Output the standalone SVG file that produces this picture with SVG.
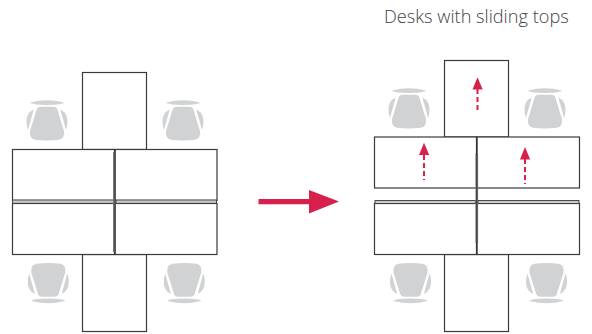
<svg xmlns="http://www.w3.org/2000/svg" width="592" height="334" viewBox="0 0 592 334">
<style>
.d{fill:#fff;stroke:#3a3a3a;stroke-width:1.2}
.s{fill:#c9cacb;stroke:#3a3a3a;stroke-width:.9}
.c{fill:#d1d2d4}
.vg{fill:#777}
.vl{stroke:#333;stroke-width:1;fill:none}
.r{fill:#d7204c}
.rd{stroke:#d7204c;stroke-width:2;stroke-dasharray:5 3;fill:none}
text{font-family:"Open Sans","Noto Sans",sans-serif;font-size:18.2px;fill:#444;font-weight:300}
</style>
<defs>
<g id="chair">
<path class="c" d="M-17,2.6Q0,-2 17,2.6Q16,4.800 0,5Q-16,4.800 -17,2.600Z"/>
<path class="c" d="M-6,6.800H6Q9.500,6.800 10.500,10L17,31Q18,38.500 12,39.800Q0,41 -12,39.800Q-18,38.500 -17,31L-10.500,10Q-9.500,6.800 -6,6.800Z"/>
<path class="c" d="M-13.500,9.500Q-20.500,13 -20.500,21Q-20.500,26.500 -19,30L-14,12Z"/>
<path class="c" d="M13.500,9.500Q20.500,13 20.500,21Q20.500,26.500 19,30L14,12Z"/>
</g>
</defs>
<g id="chairs-left">
<use href="#chair" x="47" y="100"/>
<use href="#chair" x="183" y="100"/>
<use href="#chair" transform="translate(48.300,303.500) scale(1,-1)"/>
<use href="#chair" transform="translate(184.300,303.500) scale(1,-1)"/>
</g>
<g id="desks-left">
<rect class="d" x="82.500" y="72.500" width="64" height="77"/>
<rect class="d" x="82.500" y="254.500" width="64" height="77"/>
<rect class="d" x="12.500" y="149.500" width="102" height="51"/>
<rect class="d" x="115" y="149.500" width="102" height="51"/>
<rect class="d" x="12.500" y="203.500" width="102" height="51"/>
<rect class="d" x="115" y="203.500" width="102" height="51"/>
<rect class="s" x="12.500" y="200" width="101" height="3.300"/>
<rect class="s" x="116" y="200" width="100.500" height="3.300"/>
<rect class="vg" x="113" y="152" width="2.600" height="100"/>
<path class="vl" d="M115,149V254.500"/>
</g>
<g id="arrow-main">
<path class="r" d="M258.500,199H309V190L339,201.500L309,213.500V204.300H258.500Z"/>
</g>
<g id="chairs-right">
<use href="#chair" x="409" y="88"/>
<use href="#chair" x="545" y="88"/>
<use href="#chair" transform="translate(410.500,303.500) scale(1,-1)"/>
<use href="#chair" transform="translate(546.500,303.500) scale(1,-1)"/>
</g>
<g id="desks-right">
<rect class="d" x="444.500" y="60.500" width="64" height="76.500"/>
<rect class="d" x="444.500" y="254.500" width="64" height="77"/>
<rect class="d" x="374.500" y="137" width="102" height="51"/>
<rect class="d" x="477" y="137" width="102.500" height="51"/>
<rect class="d" x="374.500" y="203.500" width="102" height="51"/>
<rect class="d" x="477" y="203.500" width="102.500" height="51"/>
<rect class="s" x="375" y="200.500" width="100.500" height="3"/>
<rect class="s" x="478" y="200.500" width="101" height="3"/>
<rect class="vg" x="475.500" y="153" width="2.600" height="90"/>
<path class="vl" d="M476.800,137V254.500"/>
</g>
<g id="connectors">
<path class="rd" d="M477.500,89V113"/>
<path class="r" d="M477.500,77.300L482.700,89.500H472.500Z"/>
<path class="rd" d="M424,155V180"/>
<path class="r" d="M424,142.700L429.200,155H419Z"/>
<path class="rd" d="M525,159V184"/>
<path class="r" d="M525,147L530.200,159.500H520Z"/>
</g>
<text x="384" y="23">Desks with sliding tops</text>
</svg>
